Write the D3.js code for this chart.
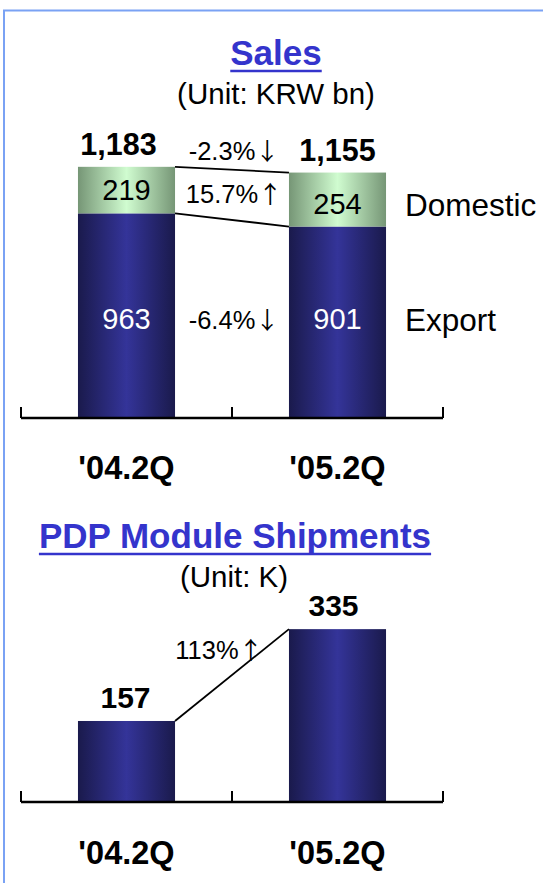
<!DOCTYPE html>
<html>
<head>
<meta charset="utf-8">
<script src="https://cdn.jsdelivr.net/npm/d3@7"></script>
<style>
  html, body { margin: 0; padding: 0; background: #fff; }
  svg { display: block; font-family: "Liberation Sans", Arial, sans-serif; }
</style>
</head>
<body>
<svg id="chart" width="543" height="883"></svg>
<script>
// ---- data ----
const categories = ["'04.2Q", "'05.2Q"];
const seriesNames = ["Domestic", "Export"];
const exportSales = [963, 901];
const domesticSales = [219, 254];
const totalSales = [1183, 1155];
const salesChange = ["-2.3%", "15.7%", "-6.4%"]; // total, domestic, export
const salesArrow = ["\u2193", "\u2191", "\u2193"];
const shipments = [157, 335];
const shipmentChange = ["113%"];
const shipmentArrow = ["\u2191"];
const titles = ["Sales", "PDP Module Shipments"];
const units = ["(Unit: KRW bn)", "(Unit: K)"];

const svg = d3.select("#chart");
const fmt = d3.format(",");
const defs = svg.append("defs");

function hGrad(id, edge, mid) {
  const g = defs.append("linearGradient").attr("id", id)
    .attr("x1", "0%").attr("x2", "100%").attr("y1", "0%").attr("y2", "0%");
  g.append("stop").attr("offset", "0%").attr("stop-color", edge);
  g.append("stop").attr("offset", "50%").attr("stop-color", mid);
  g.append("stop").attr("offset", "100%").attr("stop-color", edge);
}
hGrad("gBlue", "#1a1a4c", "#343499");
hGrad("gGreen", "#769676", "#d0fcd0");

// frame
svg.append("path").attr("d", "M4,883 V10.5 H543")
  .attr("fill", "none").attr("stroke", "#7aa2f4").attr("stroke-width", 2);

const x = d3.scaleBand().domain(categories).range([21, 443])
  .paddingInner(0.54).paddingOuter(0.27);

function title(text, cx, baseline) {
  const t = svg.append("text").attr("x", cx).attr("y", baseline)
    .attr("text-anchor", "middle").attr("font-size", 35).attr("font-weight", "bold")
    .attr("fill", "#3434cc").text(text);
  const w = t.node().getComputedTextLength();
  svg.append("line").attr("x1", cx - w / 2).attr("x2", cx + w / 2)
    .attr("y1", baseline + 6).attr("y2", baseline + 6)
    .attr("stroke", "#3434cc").attr("stroke-width", 2.5);
}
function axis(y0, labelY) {
  const g = svg.append("g");
  g.append("line").attr("x1", x.range()[0]).attr("x2", x.range()[1])
    .attr("y1", y0).attr("y2", y0).attr("stroke", "#000").attr("stroke-width", 2.5);
  const ticks = d3.range(categories.length + 1).map(i => x.range()[0] + i * x.step());
  g.selectAll(".tk").data(ticks).join("line")
    .attr("x1", d => d).attr("x2", d => d).attr("y1", y0).attr("y2", y0 - 11)
    .attr("stroke", "#000").attr("stroke-width", 2);
  g.selectAll(".cl").data(categories).join("text")
    .attr("x", d => x(d) + x.bandwidth() / 2).attr("y", labelY)
    .attr("text-anchor", "middle").attr("font-size", 32.5).attr("font-weight", "bold")
    .text(d => d);
}
function label(txt, cx, y, opts = {}) {
  return svg.append("text").attr("x", cx).attr("y", y)
    .attr("text-anchor", opts.anchor || "middle")
    .attr("font-size", opts.size || 28)
    .attr("font-weight", opts.bold ? "bold" : "normal")
    .attr("fill", opts.fill || "#000").text(txt);
}
function changeLabel(txt, arrow, cx, y) {
  const t = svg.append("text").attr("x", cx).attr("y", y)
    .attr("text-anchor", "middle").attr("font-size", 25.5);
  t.append("tspan").text(txt);
  t.append("tspan").attr("font-family", "'Noto Sans CJK JP', 'DejaVu Sans', sans-serif")
    .attr("font-size", 24).text(arrow);
  return t;
}

// ---------- Sales chart ----------
title(titles[0], 276, 65);
label(units[0], 276, 104, { size: 29.5 });

const y1 = d3.scaleLinear().domain([0, 1200]).range([418, 163]);
const stackData = categories.map((c, i) => ({ c, exp: exportSales[i], dom: domesticSales[i], tot: totalSales[i] }));

svg.selectAll(".exp").data(stackData).join("rect")
  .attr("x", d => x(d.c)).attr("width", x.bandwidth())
  .attr("y", d => y1(d.exp)).attr("height", d => y1(0) - y1(d.exp))
  .attr("fill", "url(#gBlue)");
svg.selectAll(".dom").data(stackData).join("rect")
  .attr("x", d => x(d.c)).attr("width", x.bandwidth())
  .attr("y", d => y1(d.exp + d.dom)).attr("height", d => y1(d.exp) - y1(d.exp + d.dom))
  .attr("fill", "url(#gGreen)");

// connector lines
const xr = x(categories[0]) + x.bandwidth(), xl = x(categories[1]);
[[stackData[0].exp + stackData[0].dom, stackData[1].exp + stackData[1].dom],
 [stackData[0].exp, stackData[1].exp]].forEach(([a, b]) => {
  svg.append("line").attr("x1", xr).attr("x2", xl).attr("y1", y1(a)).attr("y2", y1(b))
    .attr("stroke", "#000").attr("stroke-width", 1.8);
});

const expRowY = (y1(0) + y1(stackData[0].exp)) / 2 + 13;
stackData.forEach((d, i) => {
  const cx = x(d.c) + x.bandwidth() / 2;
  label(fmt(d.tot), cx - (i === 0 ? 8 : 0), y1(d.exp + d.dom) - 12, { bold: true, size: 30.5 });
  label(d.dom, cx, (y1(d.exp) + y1(d.exp + d.dom)) / 2 + 10 + i * 4, { size: 29 });
  label(d.exp, cx, expRowY, { size: 29, fill: "#fff" });
});
const midX = (xr + xl) / 2 + 2;
changeLabel(salesChange[0], salesArrow[0], midX, y1(stackData[0].exp + stackData[0].dom) - 7);
changeLabel(salesChange[1], salesArrow[1], midX, (y1(stackData[0].exp) + y1(stackData[0].exp + stackData[0].dom)) / 2 + 13);
changeLabel(salesChange[2], salesArrow[2], midX, expRowY);

// legend
const lx = 405, b2 = stackData[1];
label(seriesNames[0], lx, (y1(b2.exp) + y1(b2.exp + b2.dom)) / 2 + 16, { anchor: "start", size: 31.5 });
label(seriesNames[1], lx, (y1(0) + y1(b2.exp)) / 2 + 9, { anchor: "start", size: 31.5 });

axis(418, 479);

// ---------- Shipments chart ----------
title(titles[1], 235, 548);
label(units[1], 234, 587, { size: 29.5 });

const y2 = d3.scaleLinear().domain([0, 350]).range([802, 621.4]);
const shipData = categories.map((c, i) => ({ c, v: shipments[i] }));
svg.selectAll(".ship").data(shipData).join("rect")
  .attr("x", d => x(d.c)).attr("width", x.bandwidth())
  .attr("y", d => y2(d.v)).attr("height", d => y2(0) - y2(d.v))
  .attr("fill", "url(#gBlue)");
svg.append("line").attr("x1", xr).attr("x2", xl)
  .attr("y1", y2(shipData[0].v)).attr("y2", y2(shipData[1].v))
  .attr("stroke", "#000").attr("stroke-width", 1.8);
shipData.forEach((d, i) => {
  label(d.v, x(d.c) + x.bandwidth() / 2 - (i === 0 ? 1 : 4), y2(d.v) - 13, { bold: true, size: 30 });
});
changeLabel(shipmentChange[0], shipmentArrow[0], 219, 659);

axis(802, 864);
</script>
</body>
</html>
